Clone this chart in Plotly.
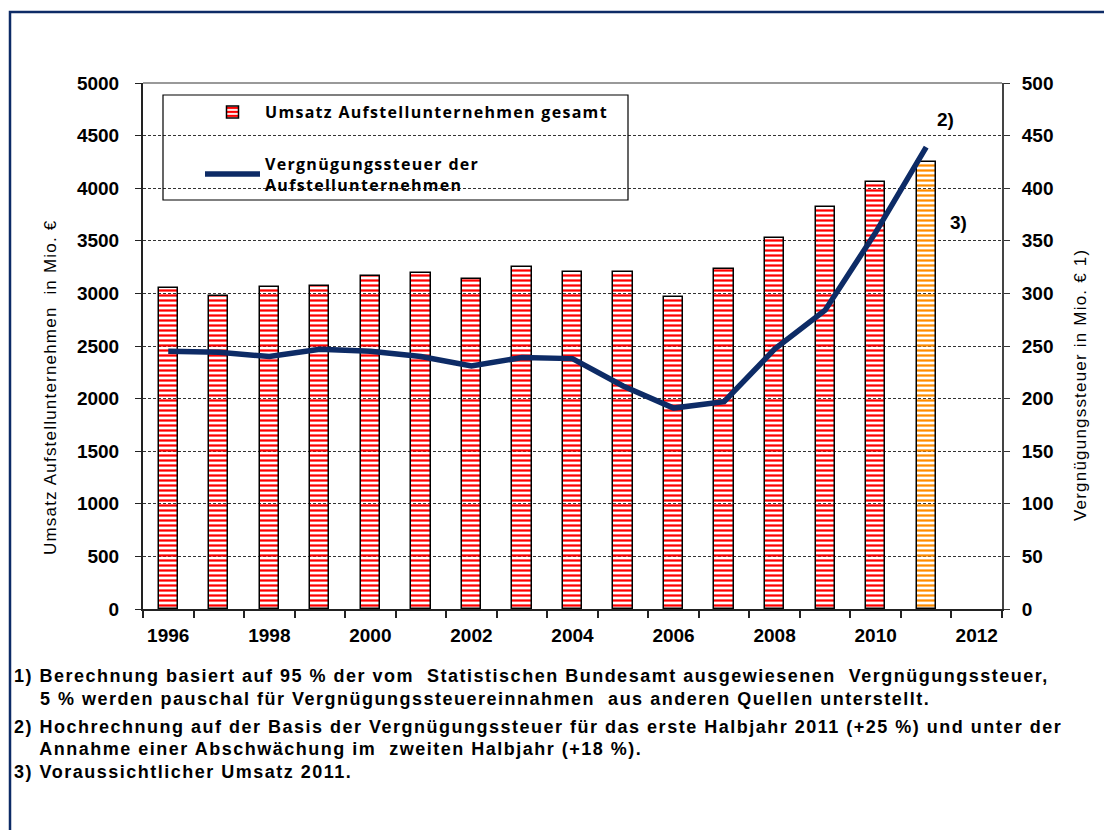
import plotly.graph_objects as go

years = list(range(1996, 2012))
umsatz = [3050, 2980, 3065, 3075, 3170, 3190, 3140, 3255, 3205, 3200, 2970, 3235, 3530, 3820, 4055, 4250]
steuer = [245, 244, 240, 247, 245, 240, 231, 239, 238, 212, 191, 197, 247, 284, 358, 439]
bar_bg = ["#ff0000"] * 15 + ["#ff8c00"]
bar_fg = ["#ffffff"] * 15 + ["#ffff00"]
xtick_vals = [1996, 1998, 2000, 2002, 2004, 2006, 2008, 2010, 2012]
ytick_left = [0, 500, 1000, 1500, 2000, 2500, 3000, 3500, 4000, 4500, 5000]
ytick_right = [0, 50, 100, 150, 200, 250, 300, 350, 400, 450, 500]

FONT = "Liberation Sans"
LS = "letter-spacing:1.5px"

def sp(t, ls=LS):
    return f'<span style="{ls}">{t}</span>'

fig = go.Figure()
fig.add_trace(go.Bar(
    x=years, y=umsatz, name=sp("Umsatz Aufstellunternehmen gesamt", "letter-spacing:1.3px"),
    width=0.38, legendgroup="a",
    marker=dict(color=bar_bg, line=dict(color="black", width=1.5),
                pattern=dict(shape="-", fgcolor=bar_fg, bgcolor=bar_bg,
                             size=5, solidity=0.45, fillmode="replace")),
))
fig.add_trace(go.Scatter(
    x=years, y=steuer, yaxis="y2", mode="lines", legendgroup="b",
    name=sp("Vergnügungssteuer der", "letter-spacing:1.3px") + "<br>" + sp("Aufstellunternehmen", "letter-spacing:1.3px"),
    line=dict(color="#0d2b66", width=5.5),
))

# body margin of 8px is compensated: figure is 1104x822
L, T = 135, 75
PW, PH = 859, 526
W, H = 1104, 822
R, B = W - L - PW, H - T - PH

def px(x):  # screen x of the reference -> paper
    return (x - 143) / PW

def py(y):  # screen y of the reference -> paper
    return (609 - y) / PH

tickfont = dict(family=FONT, size=19, weight="bold")

fig.update_layout(
    width=W, height=H,
    margin=dict(l=L, r=R, t=T, b=B),
    paper_bgcolor="white", plot_bgcolor="white",
    font=dict(family=FONT, size=16, color="black"),
    showlegend=True,
    bargap=0,
    legend=dict(x=px(200), y=py(95), xanchor="left", yanchor="top",
                borderwidth=0, bgcolor="rgba(0,0,0,0)",
                font=dict(family="Open Sans", size=16, color="black", weight="bold"),
                tracegroupgap=28, itemwidth=55),
    xaxis=dict(range=[1995.5, 2012.5], tickvals=xtick_vals,
               ticktext=[str(v) for v in xtick_vals], ticks="",
               showline=True, linecolor="#222222", linewidth=2,
               showgrid=False, zeroline=False, tickfont=tickfont,
               ticklabelstandoff=8,
               minor=dict(ticks="outside", tick0=1995.5, dtick=1, ticklen=7,
                          tickcolor="#222222", tickwidth=1.5, showgrid=False)),
    yaxis=dict(range=[0, 5000], tickvals=ytick_left, ticks="outside", ticklen=6,
               tickcolor="#222222", showline=True, linecolor="#222222", linewidth=2,
               showgrid=True, gridcolor="#333333", griddash="3px,2px", gridwidth=1,
               zeroline=False, tickfont=tickfont, ticklabelstandoff=12),
    yaxis2=dict(range=[0, 500], tickvals=ytick_right, overlaying="y", side="right",
                ticks="outside", ticklen=6, tickcolor="#333333",
                showline=True, linecolor="#444444", linewidth=2,
                showgrid=False, zeroline=False, tickfont=tickfont,
                ticklabelstandoff=8),
)

# plot frame top border (grey), legend box, outer blue frame
fig.add_shape(type="line", xref="paper", yref="paper", x0=0, x1=1, y0=1, y1=1,
              line=dict(color="#999999", width=2))
fig.add_shape(type="rect", xref="paper", yref="paper",
              x0=px(163), x1=px(628), y0=py(95), y1=py(200),
              line=dict(color="black", width=1.2), fillcolor="rgba(0,0,0,0)")
fig.add_shape(type="rect", xref="paper", yref="paper",
              x0=px(10), x1=px(1130), y0=py(12), y1=py(850),
              line=dict(color="#0d2b66", width=2.5), fillcolor="rgba(0,0,0,0)")

# axis titles
fig.add_annotation(x=px(50), y=py(388), xref="paper", yref="paper", textangle=-90,
                   xanchor="center", yanchor="middle",
                   text=sp("Umsatz Aufstellunternehmen&nbsp; in Mio. €", "letter-spacing:1.2px"),
                   showarrow=False, font=dict(family=FONT, size=17))
fig.add_annotation(x=px(1080), y=py(385), xref="paper", yref="paper", textangle=-90,
                   xanchor="center", yanchor="middle",
                   text=sp("Vergnügungssteuer in Mio. € 1)", "letter-spacing:1.2px"),
                   showarrow=False, font=dict(family=FONT, size=17))

fig.add_annotation(x=px(945), y=py(119), xref="paper", yref="paper", text="2)",
                   xanchor="center", yanchor="middle",
                   showarrow=False, font=dict(family=FONT, size=19, weight="bold"))
fig.add_annotation(x=px(958), y=py(222), xref="paper", yref="paper", text="3)",
                   xanchor="center", yanchor="middle",
                   showarrow=False, font=dict(family=FONT, size=19, weight="bold"))

notes = [
    "1) Berechnung basiert auf 95 % der vom  Statistischen Bundesamt ausgewiesenen  Vergnügungssteuer,",
    "    5 % werden pauschal für Vergnügungssteuereinnahmen  aus anderen Quellen unterstellt.",
    "2) Hochrechnung auf der Basis der Vergnügungssteuer für das erste Halbjahr 2011 (+25 %) und unter der",
    "    Annahme einer Abschwächung im  zweiten Halbjahr (+18 %).",
    "3) Voraussichtlicher Umsatz 2011.",
]
note_y = [676, 699, 727, 749, 772]
for t, yy in zip(notes, note_y):
    txt = t.replace("  ", "&nbsp; ")
    fig.add_annotation(x=px(12), y=py(yy), xref="paper", yref="paper",
                       text=sp(txt), showarrow=False,
                       xanchor="left", yanchor="middle",
                       font=dict(family=FONT, size=18, weight="bold"))

fig.write_html("out.html")
